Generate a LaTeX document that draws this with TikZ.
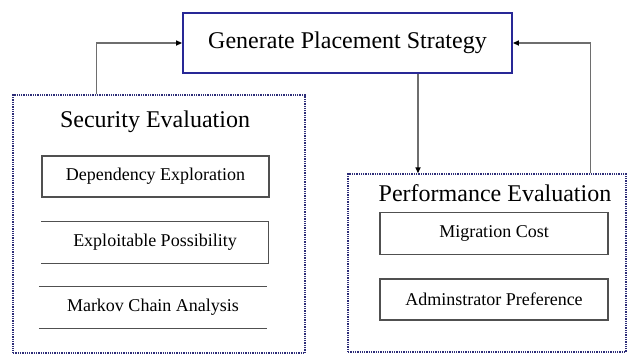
\documentclass[tikz,border=0pt]{standalone}
\usepackage{fontspec}
\setmainfont{Liberation Serif}
\usetikzlibrary{arrows.meta}
\definecolor{boxblue}{RGB}{40,40,150}
\definecolor{dotblue}{RGB}{45,45,120}
\definecolor{linegray}{RGB}{110,110,110}
\definecolor{edgegray}{RGB}{80,80,80}

\begin{document}
\begin{tikzpicture}[x=1pt, y=-1pt,
	mainbox/.style={draw=boxblue, line width=1.8pt, minimum width=329pt, minimum height=60pt, inner sep=0pt, font=\fontsize{24}{28}\selectfont},
	frame/.style={draw=dotblue, line width=1.4pt, dash pattern=on 1.3pt off 1pt, inner sep=0pt},
	title/.style={font=\fontsize{24}{28}\selectfont, inner sep=0pt},
	inbox/.style={minimum width=227pt, minimum height=41pt, inner sep=0pt, font=\fontsize{18}{22}\selectfont},
	border/.style={draw=edgegray, line width=1.2pt},
	arr/.style={draw=linegray, line width=1.5pt, -{Triangle[color=black, length=6pt, width=5pt]}}]
		\useasboundingbox (0,0) rectangle (628,354);
		% top box
		\node[mainbox] (gps) at (347.5,43) {Generate Placement Strategy};
		% security side
		\node[frame, minimum width=292pt, minimum height=258pt] (sec) at (159,224) {};
		\node[title] (sectitle) at (155,122) {Security Evaluation};
		\node[inbox, border] (dep) at (155.5,176.5) {Dependency Exploration};
		\node[inbox] (exp) at (155,242.5) {Exploitable Possibility};
		\node[inbox, minimum width=228pt] (mkv) at (153,307.5) {Markov Chain Analysis};
		\draw[border] (exp.north west) -- (exp.north east) -- (exp.south east) -- (exp.south west);
		\draw[border] (mkv.north west) -- (mkv.north east);
		\draw[border] (mkv.south west) -- (mkv.south east);
		% performance side
		\node[frame, minimum width=278pt, minimum height=178pt] (perf) at (487,263) {};
		\node[title] (perftitle) at (495,193) {Performance Evaluation};
		\node[inbox, border, minimum width=228pt, minimum height=42pt] (mig) at (494,233.5) {Migration Cost};
		\node[inbox, border, minimum width=228pt] (adm) at (494,299.5) {Adminstrator Preference};
		% arrows
		\draw[arr] ([xshift=84pt]sec.north west) |- (gps.west);
		\draw[arr] ([xshift=-36pt]perf.north east) |- (gps.east);
		\draw[arr] ([xshift=70.5pt]gps.south) -- ([xshift=70.5pt]gps.south |- perf.north);
\end{tikzpicture}
\end{document}
